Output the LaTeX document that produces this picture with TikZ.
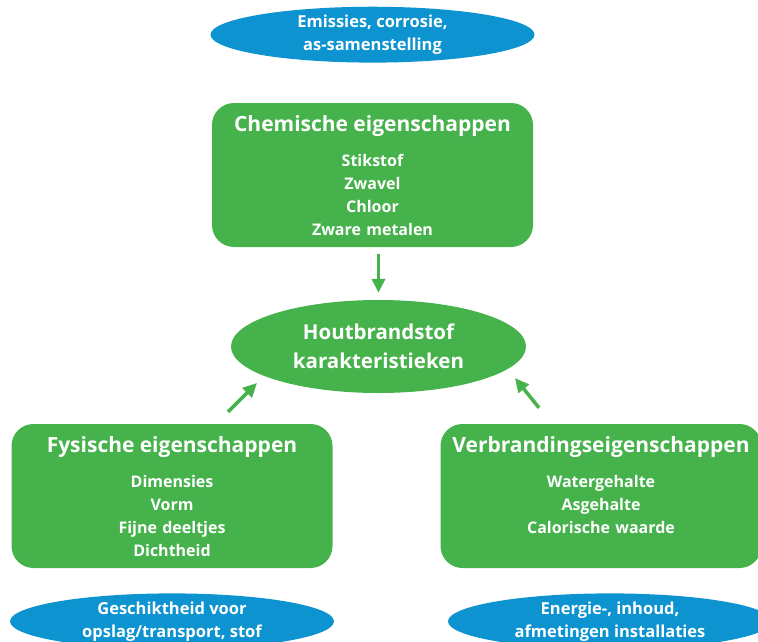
\documentclass[tikz,border=0pt]{standalone}
\usepackage{fontspec}
\setmainfont{Open Sans}
\usetikzlibrary{positioning, shapes.geometric, arrows.meta}
\definecolor{woodgreen}{RGB}{70,178,75}
\definecolor{effectblue}{RGB}{12,147,208}

\begin{document}
\begin{tikzpicture}[x=1pt, y=-1pt,
propbox/.style={rectangle, rounded corners=22pt, fill=woodgreen, text=white, font=\bfseries\fontsize{16}{23}\selectfont, align=center, text width=316pt, minimum width=321pt, inner xsep=0pt, inner ysep=0pt, text height=28pt, text depth=116pt},
effectnode/.style={ellipse, fill=effectblue, text=white, font=\bfseries\fontsize{16.5}{23}\selectfont, align=center, minimum width=324pt, minimum height=51pt, inner sep=0pt},
centrenode/.style={ellipse, fill=woodgreen, text=white, font=\bfseries\fontsize{20.5}{29}\selectfont, align=center, minimum width=295pt, minimum height=93pt, inner sep=0pt},
flow/.style={draw=woodgreen, line width=3.5pt, -{Triangle[length=14pt, width=13pt]}},
]
\clip (0,0) rectangle (758,642);
%Nodes
\node[centrenode] (hout) at (378.5,346.5) {Houtbrandstof\\karakteristieken};
\node[propbox] (chem) at (372.5,175) {{\fontsize{21}{23}\selectfont Chemische eigenschappen}\\[12.5pt]Stikstof\\Zwavel\\Chloor\\Zware metalen};
\node[propbox] (fys) at (172,496) {{\fontsize{21}{23}\selectfont Fysische eigenschappen}\\[12.5pt]Dimensies\\Vorm\\Fijne deeltjes\\Dichtheid};
\node[propbox] (verb) at (601,496) {{\fontsize{21}{23}\selectfont Verbrandingseigenschappen}\\[12.5pt]Watergehalte\\Asgehalte\\Calorische waarde};
\node[effectnode] (emis) [above=40pt of chem] {Emissies, corrosie,\\as-samenstelling};
\node[effectnode] (geschikt) [below=25pt of fys] {Geschiktheid voor\\opslag/transport, stof};
\node[effectnode] (energie) [below=25pt of verb, xshift=9pt] {Energie-, inhoud,\\afmetingen installaties};

%Lines
\draw[flow, shorten <=7pt, shorten >=7pt] (chem.south -| hout.north) -- (hout.north);
\draw[flow] ([xshift=56pt, yshift=12pt]fys.north) -- ([xshift=-121.5pt, yshift=-36.5pt]hout.center);
\draw[flow] ([xshift=-62pt, yshift=16pt]verb.north) -- ([xshift=136.5pt, yshift=-31.5pt]hout.center);
\end{tikzpicture}
\end{document}
